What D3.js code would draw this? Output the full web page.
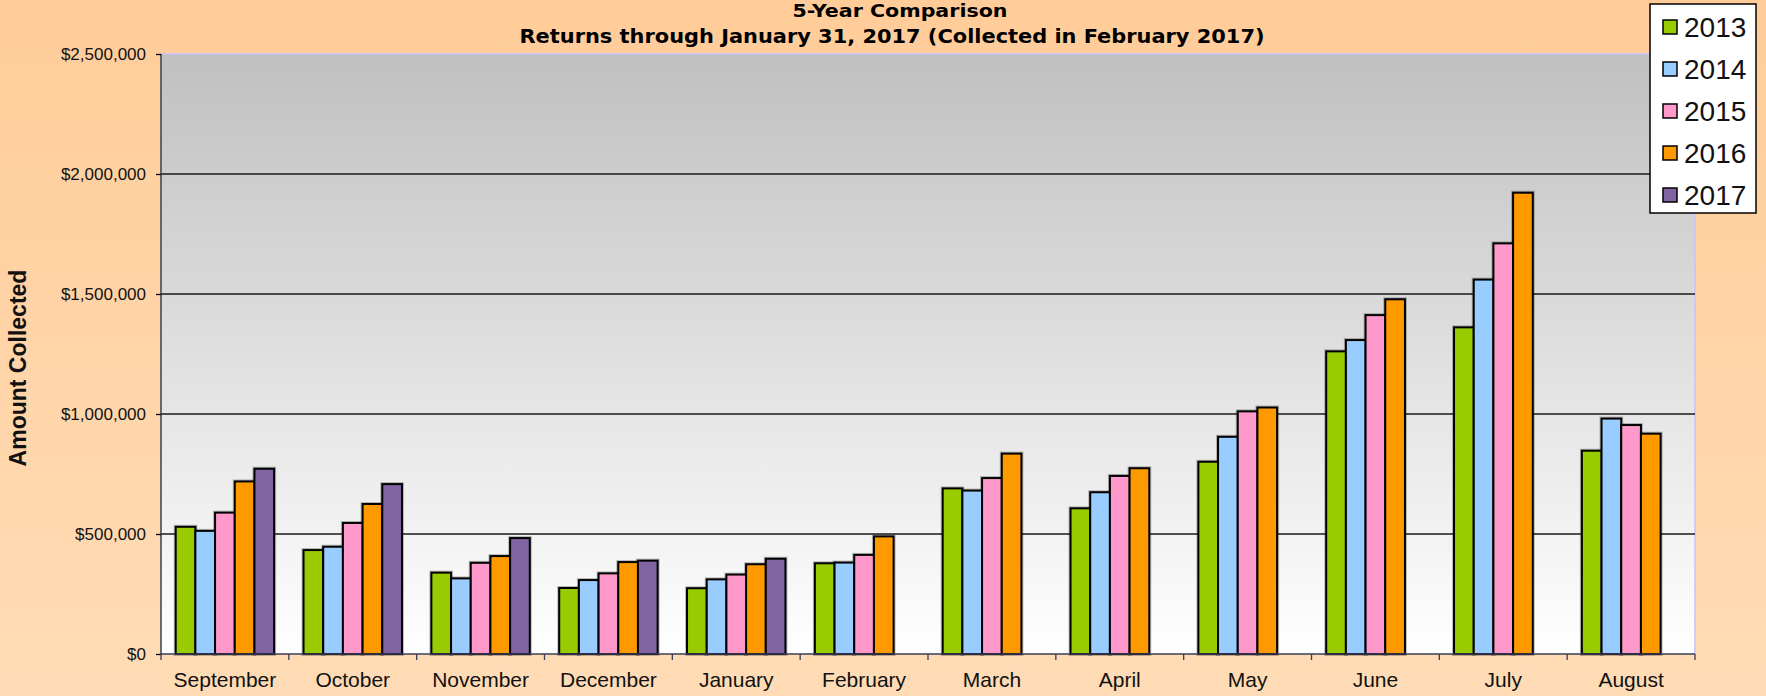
<!DOCTYPE html>
<html>
<head>
<meta charset="utf-8">
<script src="https://cdn.jsdelivr.net/npm/d3@7"></script>
<style>
  html, body { margin: 0; padding: 0; background: #FFCC99; }
  svg { display: block; }
</style>
</head>
<body>
<svg></svg>
<script>
// Month categories (fiscal year order)
const months = ["September", "October", "November", "December", "January", "February",
                "March", "April", "May", "June", "July", "August"];
const years = ["2013", "2014", "2015", "2016", "2017"];

// Amount collected per month, by year
const v2013 = [530000, 433000, 339000, 275000, 274000, 378000, 690000, 607000, 801000, 1261000, 1361000, 847000];
const v2014 = [513000, 447000, 315000, 308000, 311000, 381000, 681000, 674000, 905000, 1308000, 1560000, 981000];
const v2015 = [589000, 546000, 380000, 336000, 331000, 413000, 733000, 742000, 1011000, 1412000, 1711000, 954000];
const v2016 = [719000, 625000, 408000, 383000, 374000, 490000, 835000, 774000, 1027000, 1478000, 1922000, 918000];
const v2017 = [772000, 708000, 483000, 389000, 397000, null, null, null, null, null, null, null];

const yTicks = [0, 500000, 1000000, 1500000, 2000000, 2500000];
const colors = ["#99CC00", "#99CCFF", "#FF99CC", "#FF9900", "#8064A2"];

const chart = () => {
    const width = 1766, height = 696;
    const left = 161, right = 1695, top = 54, bottom = 654;
    const series = [v2013, v2014, v2015, v2016, v2017];

    const svg = d3.select("svg")
        .attr("width", width)
        .attr("height", height)
        .attr("font-family", "'Liberation Sans', Arial, sans-serif");

    const defs = svg.append("defs");
    const bg = defs.append("linearGradient").attr("id", "bg")
        .attr("x1", 0).attr("y1", 0).attr("x2", 0).attr("y2", 1);
    bg.append("stop").attr("offset", "0%").attr("stop-color", "#FFCC99");
    bg.append("stop").attr("offset", "100%").attr("stop-color", "#FFDCB6");
    const pg = defs.append("linearGradient").attr("id", "plotbg")
        .attr("x1", 0).attr("y1", 0).attr("x2", 0).attr("y2", 1);
    pg.append("stop").attr("offset", "0%").attr("stop-color", "#C0C0C0");
    pg.append("stop").attr("offset", "100%").attr("stop-color", "#FFFFFF");

    svg.append("rect")
        .attr("width", width).attr("height", height)
        .attr("fill", "url(#bg)");

    const x0 = d3.scaleBand()
        .domain(months)
        .range([left, right])
        .paddingInner(0.23)
        .paddingOuter(0.115);
    const x1 = d3.scaleBand()
        .domain(years)
        .range([0, x0.bandwidth()]);
    const y = d3.scaleLinear()
        .domain([0, 2500000])
        .range([bottom, top]);

    // plot area
    svg.append("rect")
        .attr("x", left).attr("y", top)
        .attr("width", right - left).attr("height", bottom - top)
        .attr("fill", "url(#plotbg)");
    svg.append("path")
        .attr("fill", "none")
        .attr("stroke", "#C4C4FF")
        .attr("stroke-width", 1.5)
        .attr("d", `M${left},${top}H${right}V${bottom}`);

    // gridlines
    svg.append("g")
        .selectAll("line")
        .data(yTicks.slice(1, -1))
        .join("line")
          .attr("x1", left).attr("x2", right)
          .attr("y1", d => y(d)).attr("y2", d => y(d))
          .attr("stroke", "#1a1a1a")
          .attr("stroke-width", 1.3);

    // bars
    const rows = months.map((m, i) => ({ month: m, vals: series.map((s, j) => ({ year: years[j], v: s[i], c: colors[j] })) }));
    const groups = svg.append("g")
      .selectAll("g")
      .data(rows)
      .join("g")
        .attr("transform", d => `translate(${x0(d.month)},0)`);
    groups.selectAll("rect.shadow")
      .data(d => d.vals.filter(e => e.v != null))
      .join("rect")
        .attr("class", "shadow")
        .attr("x", d => x1(d.year))
        .attr("y", d => y(d.v))
        .attr("width", x1.bandwidth())
        .attr("height", d => y(0) - y(d.v))
        .attr("fill", "none")
        .attr("stroke", "#000")
        .attr("stroke-opacity", 0.25)
        .attr("stroke-width", 4);
    groups.selectAll("rect.bar")
      .data(d => d.vals.filter(e => e.v != null))
      .join("rect")
        .attr("class", "bar")
        .attr("x", d => x1(d.year))
        .attr("y", d => y(d.v))
        .attr("width", x1.bandwidth())
        .attr("height", d => y(0) - y(d.v))
        .attr("fill", d => d.c)
        .attr("stroke", "#000")
        .attr("stroke-width", 2);

    // y axis
    const yAxis = svg.append("g")
        .attr("transform", `translate(${left},0)`)
        .call(d3.axisLeft(y).tickValues(yTicks).tickFormat(d3.format("$,")).tickSize(5).tickPadding(10));
    yAxis.select(".domain").attr("stroke", "#3c3c5a").attr("stroke-width", 1.5)
        .attr("d", `M0,${top}V${bottom}`);
    yAxis.selectAll(".tick line").attr("stroke", "#000").attr("stroke-width", 1.3);
    yAxis.selectAll("text").attr("font-size", 17).attr("fill", "#111")
        .attr("font-family", "'Liberation Sans', Arial, sans-serif");

    // x axis with ticks between categories
    const xAxis = svg.append("g")
        .attr("transform", `translate(0,${bottom})`);
    xAxis.append("line")
        .attr("x1", left).attr("x2", right)
        .attr("stroke", "#3c3c5a").attr("stroke-width", 1.5);
    xAxis.selectAll("line.tk")
      .data(d3.range(months.length + 1))
      .join("line")
        .attr("class", "tk")
        .attr("x1", i => left + i * x0.step()).attr("x2", i => left + i * x0.step())
        .attr("y1", 0).attr("y2", 6)
        .attr("stroke", "#3c3c5a").attr("stroke-width", 1.3);
    xAxis.selectAll("text")
      .data(months)
      .join("text")
        .attr("x", d => x0(d) + x0.bandwidth() / 2)
        .attr("y", 33)
        .attr("text-anchor", "middle")
        .attr("font-size", 21)
        .attr("fill", "#111")
        .text(d => d);

    // axis title
    svg.append("text")
        .attr("transform", "translate(26,368) rotate(-90)")
        .attr("text-anchor", "middle")
        .attr("font-size", 23)
        .attr("font-weight", "bold")
        .attr("fill", "#111")
        .text("Amount Collected");

    // chart title
    const tf = "'Comic Sans MS', 'DejaVu Sans Condensed', 'DejaVu Sans', sans-serif";
    svg.append("text")
        .attr("x", 900).attr("y", 17)
        .attr("text-anchor", "middle")
        .attr("font-family", tf)
        .attr("font-weight", "bold")
        .attr("font-size", 17)
        .attr("textLength", 215)
        .attr("lengthAdjust", "spacingAndGlyphs")
        .text("5-Year Comparison");
    svg.append("text")
        .attr("x", 892).attr("y", 43)
        .attr("text-anchor", "middle")
        .attr("font-family", tf)
        .attr("font-weight", "bold")
        .attr("font-size", 19)
        .attr("textLength", 745)
        .attr("lengthAdjust", "spacingAndGlyphs")
        .text("Returns through January 31, 2017 (Collected in February 2017)");

    // legend
    const legend = svg.append("g");
    legend.append("rect")
        .attr("x", 1650).attr("y", 4)
        .attr("width", 106).attr("height", 209)
        .attr("fill", "#fff")
        .attr("stroke", "#000")
        .attr("stroke-width", 1.5);
    const item = legend.selectAll("g")
      .data(years)
      .join("g")
        .attr("transform", (d, i) => `translate(1663,${27 + i * 42})`);
    item.append("rect")
        .attr("x", 0).attr("y", -7)
        .attr("width", 14).attr("height", 14)
        .attr("fill", (d, i) => colors[i])
        .attr("stroke", "#000")
        .attr("stroke-width", 1.5);
    item.append("text")
        .attr("x", 21)
        .attr("dy", "0.36em")
        .attr("font-size", 28)
        .attr("fill", "#111")
        .text(d => d);

    return svg.node();
};

chart();
</script>
</body>
</html>
